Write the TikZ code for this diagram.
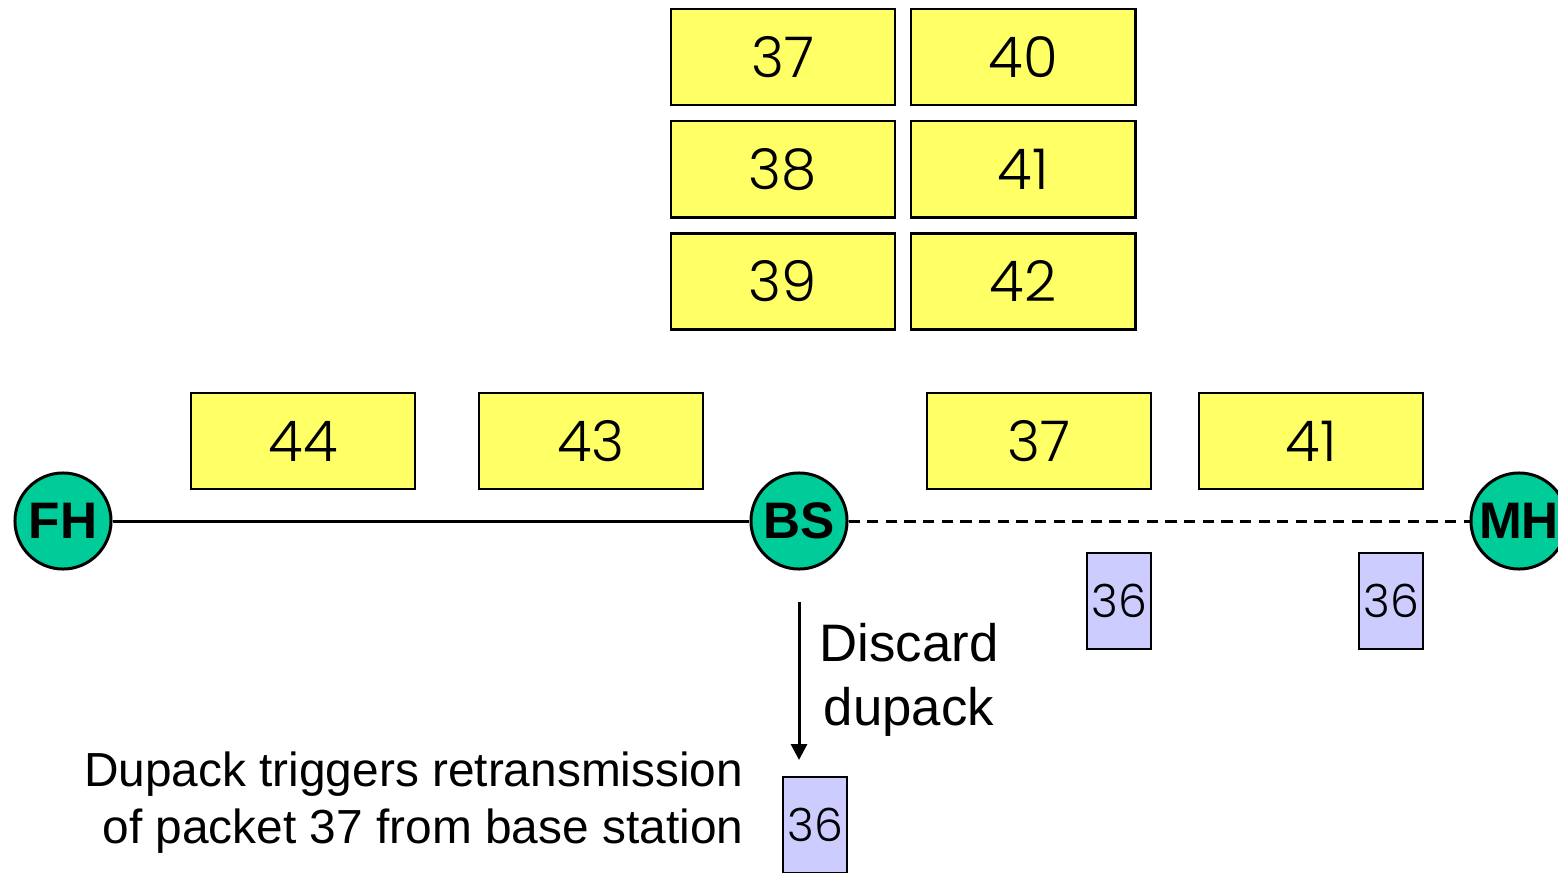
\documentclass[tikz,border=0pt]{standalone}
\usepackage{fontspec}
\setmainfont{Liberation Sans}
\newfontfamily\numfont{Poppins Light}
\usetikzlibrary{%
	positioning,
	arrows.meta
}
\definecolor{pktyellow}{HTML}{FFFF66}
\definecolor{hostgreen}{HTML}{00CC99}
\definecolor{ackblue}{HTML}{CCCCFF}

\begin{document}
\begin{tikzpicture}[x=0.01cm,y=-0.01cm,
		packet/.style={draw,line width=0.8pt,fill=pktyellow,minimum width=2.24cm,minimum height=0.96cm,inner sep=0pt,outer sep=0pt,font=\numfont\fontsize{16}{19}\selectfont},
		ack/.style={draw,line width=0.8pt,fill=ackblue,minimum width=0.64cm,minimum height=0.96cm,inner sep=0pt,font=\numfont\fontsize{13}{16}\selectfont},
		host/.style={circle,draw,line width=0.85pt,fill=hostgreen,minimum size=0.96cm,inner sep=0pt,font=\bfseries\fontsize{14.6}{17}\selectfont},
		link/.style={line width=0.85pt}
	]
	\useasboundingbox (0,0) rectangle (1558,873);

		% buffer at the base station
		\node(b37) [packet] at (783,57) {37};
		\node(b40) [packet, right= 0.16cm of b37] {40};
		\node(b38) [packet, below= 0.16cm of b37] {38};
		\node(b41) [packet, right= 0.16cm of b38] {41};
		\node(b39) [packet, below= 0.16cm of b38] {39};
		\node(b42) [packet, right= 0.16cm of b39] {42};

		% packets on the links
		\node(p44) [packet] at (303,441) {44};
		\node(p43) [packet] at (591,441) {43};
		\node(p37) [packet] at (1039,441) {37};
		\node(p41) [packet] at (1311,441) {41};

		% hosts
		\node(fh) [host] at (63,521) {FH};
		\node(bs) [host] at (799,521) {BS};
		\node(mh) [host] at (1519,521) {MH};
		\draw[link] (fh) -- (bs);
		\draw[link, dash pattern=on 3.2pt off 2.1pt] (bs) -- (mh);

		% dupacks
		\node(a1) [ack] at (1119,601) {36};
		\node(a2) [ack] at (1391,601) {36};
		\node(a3) [ack] at (815,825) {36};

		\coordinate(dropstart) at (799,602);
		\coordinate(dropend) at (799,760);
		\draw[link, -{Triangle[length=4.5pt,width=4.5pt]}] (dropstart) -- (dropend);

		\node(discard) [align=center, font=\fontsize{15}{18}\selectfont] at (909,680) {Discard\\dupack};
		\node(retx) [align=right, anchor=east, inner sep=0pt, font=\fontsize{13.6}{16.2}\selectfont] at (744,803) {Dupack triggers retransmission\\of packet 37 from base station};

	\end{tikzpicture}
\end{document}
